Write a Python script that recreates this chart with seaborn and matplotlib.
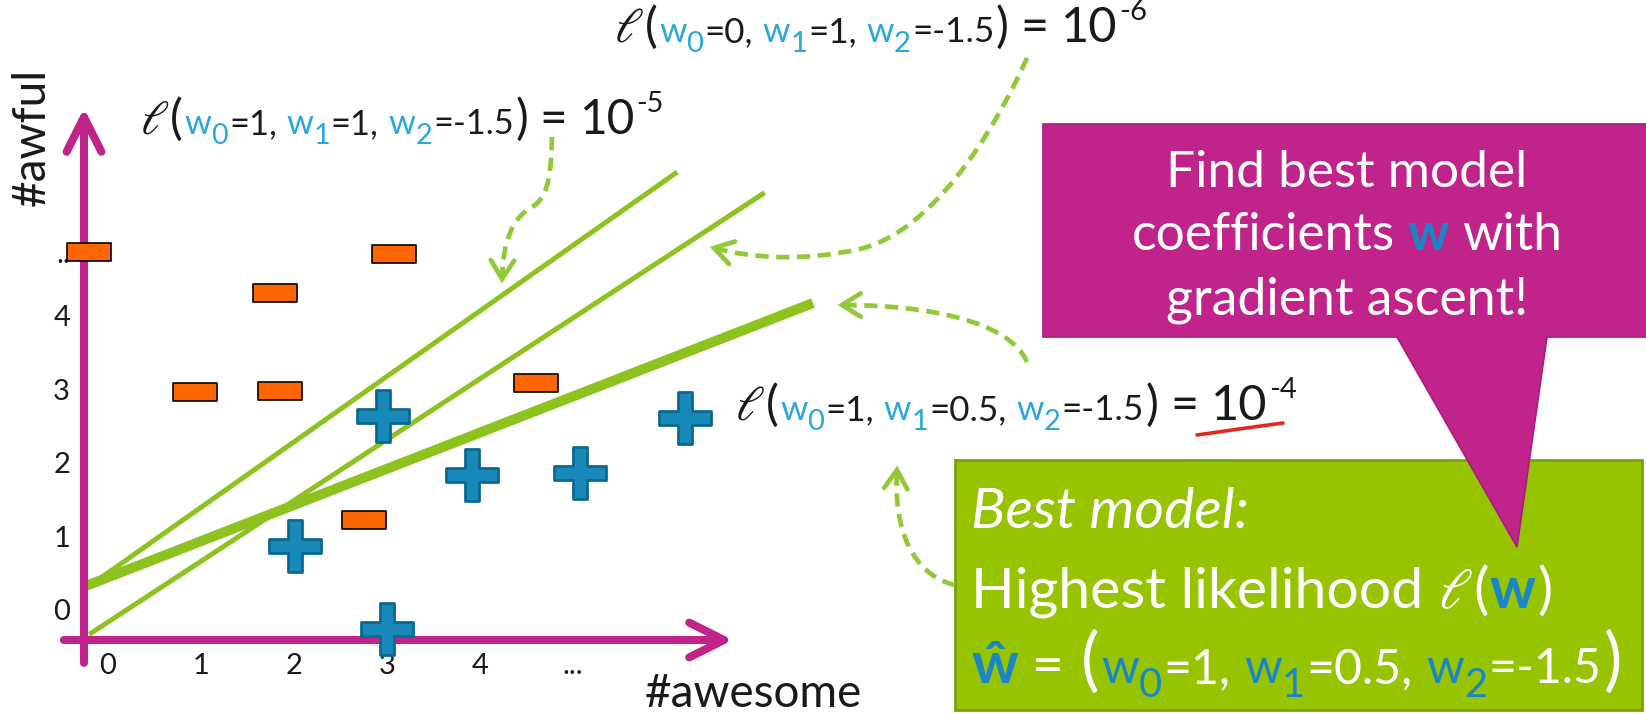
import matplotlib
matplotlib.use("Agg")
import matplotlib.pyplot as plt
import numpy as np
import pandas as pd
import seaborn as sns
from matplotlib.path import Path
from matplotlib.patches import PathPatch, Polygon, Rectangle

# ---- data ------------------------------------------------------------------
awesome_ticks = [0, 1, 2, 3, 4, 5]
awesome_ticklabels = ["0", "1", "2", "3", "4", "..."]
awful_ticks = [0, 1, 2, 3, 4, 4.85]
awful_ticklabels = ["0", "1", "2", "3", "4", ".."]

# negative reviews (-)
neg_awesome = [-0.20, 1.80, 3.07, 0.94, 1.85, 4.60, 2.75]
neg_awful = [4.86, 4.30, 4.84, 2.96, 2.97, 3.08, 1.22]

# positive reviews (+)
pos_awesome = [2.96, 2.01, 3.91, 5.07, 6.20, 3.00]
pos_awful = [2.63, 0.87, 1.83, 1.86, 2.61, -0.26]

# three candidate decision boundaries (end points in the feature plane)
boundary_x_start = [-0.23, -0.20, -0.23]
boundary_y_start = [0.30, -0.33, 0.33]
boundary_x_end = [6.12, 7.06, 7.58]
boundary_y_end = [5.95, 5.67, 4.17]

# coefficients and likelihood of each candidate
cand_w0 = ["1", "0", "1"]
cand_w1 = ["1", "1", "0.5"]
cand_w2 = ["-1.5", "-1.5", "-1.5"]
cand_exp = ["-5", "-6", "-4"]

# ---- style -----------------------------------------------------------------
INK = "#1a1a1a"
BLUE = "#2AA7DE"
BOX_BLUE = "#1A86C6"
GREEN = "#8DC21F"
DASH_GREEN = "#93C83A"
MAGENTA = "#C0248A"
ORANGE = "#FF6600"
PLUS_FACE = "#1889B9"
PLUS_EDGE = "#0B6A8E"
BOX_GREEN = "#97C400"
RED = "#E6261E"
WHITE = "white"

W, H = 1646, 714
PX = 100 / 72  # pixels per point

sns.set_theme(style="white")
plt.rcParams["font.family"] = ["Lato", "DejaVu Sans"]
plt.rcParams["mathtext.fontset"] = "stix"

fig = plt.figure(figsize=(W / 100, H / 100), dpi=100)
fig.patch.set_facecolor("white")

# ---- scatter plot ----------------------------------------------------------
AX_L, AX_R, AX_T, AX_B = 84, 733, 108, 640
ax = fig.add_axes([AX_L / W, 1 - AX_B / H, (AX_R - AX_L) / W, (AX_B - AX_T) / H])
ax.set_xlim(-0.258, 6.72)
ax.set_ylim(-0.408, 6.82)
ax.patch.set_alpha(0)

line_widths = [3.6, 3.6, 7.2]
for xs, ys, xe, ye, lw in zip(boundary_x_start, boundary_y_start,
                              boundary_x_end, boundary_y_end, line_widths):
    sns.lineplot(x=[xs, xe], y=[ys, ye], color=GREEN, linewidth=lw, ax=ax,
                 zorder=3, clip_on=False, solid_capstyle="butt")

minus_marker = Path([(-1, -0.42), (1, -0.42), (1, 0.42), (-1, 0.42), (-1, -0.42)],
                    closed=True)
t = 0.13
plus_marker = Path([(-t, -.5), (t, -.5), (t, -t), (.5, -t), (.5, t), (t, t), (t, .5),
                    (-t, .5), (-t, t), (-.5, t), (-.5, -t), (-t, -t), (-t, -.5)],
                   closed=True)

neg = pd.DataFrame({"awesome": neg_awesome, "awful": neg_awful})
pos = pd.DataFrame({"awesome": pos_awesome, "awful": pos_awful})
sns.scatterplot(data=neg, x="awesome", y="awful", marker=minus_marker, s=961,
                color=ORANGE, edgecolor="black", linewidth=1.2, ax=ax,
                zorder=5, clip_on=False, legend=False)
sns.scatterplot(data=pos, x="awesome", y="awful", marker=plus_marker, s=1444,
                color=PLUS_FACE, edgecolor=PLUS_EDGE, linewidth=2.0, ax=ax,
                zorder=5, clip_on=False, legend=False)

sns.despine(ax=ax, left=True, bottom=True, top=True, right=True)
ax.set_xticks(awesome_ticks, awesome_ticklabels)
ax.set_yticks(awful_ticks, awful_ticklabels)
ax.tick_params(axis="x", length=0, pad=9, labelsize=21, labelcolor=INK)
ax.tick_params(axis="y", length=0, pad=10, labelsize=21, labelcolor=INK)
ax.grid(False)

# axis arrows
arrow_kw = dict(arrowstyle="->,head_length=0.5,head_width=0.25", color=MAGENTA,
                lw=5.8, mutation_scale=50, shrinkA=0, shrinkB=0,
                capstyle="round", joinstyle="round")
ax.annotate("", xy=(0.0, 1.0), xytext=(0.0, -0.043), xycoords="axes fraction",
            textcoords="axes fraction", arrowprops=arrow_kw, zorder=4)
ax.annotate("", xy=(1.0, 0.0), xytext=(-0.031, 0.0), xycoords="axes fraction",
            textcoords="axes fraction", arrowprops=arrow_kw, zorder=4)

ax.set_xlabel("#awesome", fontsize=33, color=INK)
ax.xaxis.label.set_va("baseline")
ax.xaxis.set_label_coords(1.032, -0.126)
ax.set_ylabel("#awful", fontsize=33, color=INK)
ax.yaxis.label.set_va("baseline")
ax.yaxis.set_label_coords(-0.060, 0.945)

# ---- overlay in pixel coordinates (y downward) -----------------------------
ov = fig.add_axes([0, 0, 1, 1], zorder=10)
ov.set_xlim(0, W)
ov.set_ylim(H, 0)
ov.axis("off")

renderer = fig.canvas.get_renderer()


def rich(x, y, pieces, size, width=None, center=None):
    """Draw differently styled pieces of text along one baseline."""
    def build(sz):
        arts, cx = [], x
        for i, p in enumerate(pieces):
            fs = sz * p.get("scale", 1.0)
            txt = ov.text(cx, y - p.get("rise", 0.0) * sz * PX, p["s"],
                          color=p.get("color", INK), fontsize=fs,
                          fontweight=p.get("weight", "normal"),
                          fontstyle=p.get("style", "normal"),
                          ha="left", va="baseline", zorder=8)
            cx += txt.get_window_extent(renderer).width
            if i < len(pieces) - 1:
                cx += p.get("gap", 0.05) * sz * PX
            arts.append(txt)
        return arts, cx - x

    arts, total = build(size)
    if width is not None:
        for a in arts:
            a.remove()
        size = size * width / total
        arts, total = build(size)
    if center is not None:
        dx = center - total / 2 - x
        for a in arts:
            px, py = a.get_position()
            a.set_position((px + dx, py))
    return size


def likelihood_pieces(w0, w1, w2, exp):
    sm, sb = 0.72, 0.6
    pieces = [dict(s=r"$\ell$", scale=1.0, gap=0.02), dict(s="(", gap=0.03)]
    for k, val in enumerate([w0, w1, w2]):
        last = k == 2
        pieces += [dict(s="w", color=BLUE, scale=sm, gap=0.0),
                   dict(s=str(k), color=BLUE, scale=sb, rise=-0.2, gap=0.02),
                   dict(s=f"={val}" + ("" if last else ","), scale=sm,
                        gap=0.03 if last else 0.2)]
    pieces += [dict(s=")", gap=0.25), dict(s="=", gap=0.25),
               dict(s="10", gap=0.04), dict(s=exp, scale=0.6, rise=0.45)]
    return pieces


# likelihood annotations: (left x, baseline y, right x)
ann_pos = [(140, 134, 665), (614, 42, 1148), (735, 420, 1297)]
for (x0, yb, x1), w0, w1, w2, e in zip(ann_pos, cand_w0, cand_w1, cand_w2, cand_exp):
    rich(x0, yb, likelihood_pieces(w0, w1, w2, e), 28, width=x1 - x0)

# red underline below the best likelihood
ov.add_patch(PathPatch(Path([(1197, 435), (1238, 429), (1283, 423)],
                            [Path.MOVETO, Path.CURVE3, Path.CURVE3]),
                       fill=False, color=RED, lw=2.6, capstyle="round", zorder=7))


# dashed pointer arrows
def dashed_arrow(pts):
    codes = [Path.MOVETO] + [Path.CURVE4] * (len(pts) - 1)
    ov.add_patch(PathPatch(Path(pts, codes), fill=False, edgecolor=DASH_GREEN,
                           lw=3.4, linestyle=(0, (2.8, 1.6)), capstyle="butt",
                           zorder=6))
    tip = np.array(pts[-1], float)
    d = tip - np.array(pts[-2], float)
    d /= np.hypot(*d)
    arms = []
    for a in (np.radians(32), -np.radians(32)):
        r = np.array([[np.cos(a), -np.sin(a)], [np.sin(a), np.cos(a)]])
        arms.append(tip - 22 * (r @ d))
    ov.plot([arms[0][0], tip[0], arms[1][0]], [arms[0][1], tip[1], arms[1][1]],
            color=DASH_GREEN, lw=3.4, solid_capstyle="round",
            solid_joinstyle="miter", zorder=6)


dashed_arrow([(552, 137), (551, 165), (551, 196), (532, 207),
              (512, 218), (503, 242), (502, 279)])
dashed_arrow([(1027, 58), (990, 140), (930, 232), (860, 249),
              (800, 262), (752, 258), (714, 248)])
dashed_arrow([(1027, 362), (1010, 322), (930, 305), (842, 305)])
dashed_arrow([(955, 585), (913, 575), (893, 530), (897, 470)])

# ---- "best model" box --------------------------------------------------------
ov.add_patch(Rectangle((955, 460), 1642 - 955, 710 - 460, facecolor=BOX_GREEN,
                       edgecolor="#7BA20D", lw=2, zorder=2))
box_size = rich(971, 608, [dict(s="Highest likelihood", color=WHITE, gap=0.25),
                           dict(s=r"$\ell$", color=WHITE, gap=0.02),
                           dict(s="(", color=WHITE, gap=0.02),
                           dict(s="w", color=BOX_BLUE, weight="bold", gap=0.02),
                           dict(s=")", color=WHITE)],
                40, width=1552 - 971)
rich(971, 528, [dict(s="Best model:", color=WHITE, style="italic")], box_size)
sm, sb = 0.7, 0.58
best = [dict(s="ŵ", color=BOX_BLUE, weight="bold", scale=0.85, gap=0.2),
        dict(s="=", color=WHITE, scale=0.8, gap=0.25),
        dict(s="(", color=WHITE, gap=0.03)]
for k, val in enumerate(["1", "0.5", "-1.5"]):
    last = k == 2
    best += [dict(s="w", color=BOX_BLUE, scale=sm, gap=0.0),
             dict(s=str(k), color=BOX_BLUE, scale=sb, rise=-0.2, gap=0.02),
             dict(s=f"={val}" + ("" if last else ","), color=WHITE,
                  scale=sm, gap=0.03 if last else 0.2)]
best += [dict(s=")", color=WHITE)]
rich(971, 683, best, 40, width=1621 - 971)

# ---- call-out --------------------------------------------------------------
ov.add_patch(Polygon([(1043, 124), (1650, 124), (1650, 337), (1547, 337),
                      (1517, 547), (1397, 337), (1043, 337)], closed=True,
                     facecolor=MAGENTA, edgecolor="#A51E78", lw=1.2, zorder=3))
rich(1200, 187, [dict(s="Find best model", color=WHITE)], 36,
     width=361, center=1347)
rich(1200, 250, [dict(s="coefficients", color=WHITE, gap=0.25),
                 dict(s="w", color=BOX_BLUE, weight="bold", gap=0.25),
                 dict(s="with", color=WHITE)], 36, width=432, center=1347)
rich(1200, 315, [dict(s="gradient ascent!", color=WHITE)], 36,
     width=363, center=1347)

fig.savefig("out.png", dpi=100, facecolor="white")
